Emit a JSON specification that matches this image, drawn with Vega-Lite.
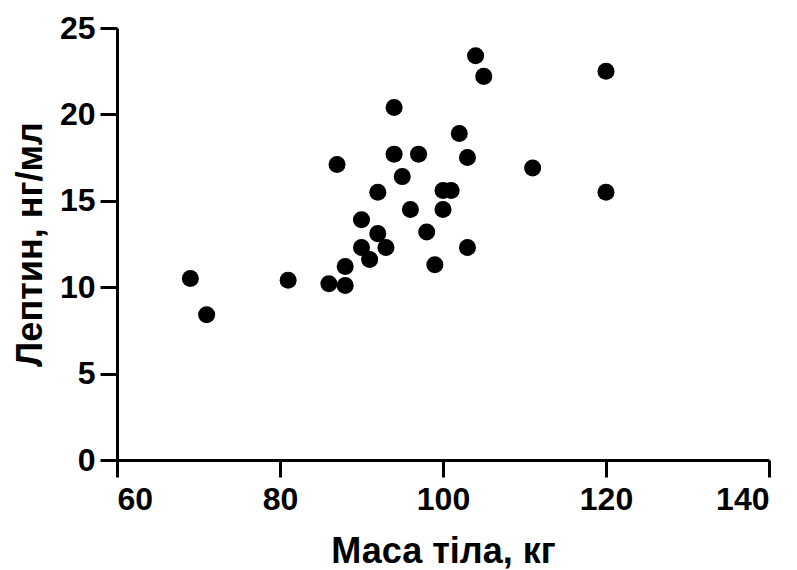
{
  "$schema": "https://vega.github.io/schema/vega-lite/v6.json",
  "width": 652,
  "height": 432,
  "autosize": {"type": "none"},
  "padding": {"left": 117, "top": 28, "right": 28, "bottom": 110},
  "background": "white",
  "config": {
    "view": {"stroke": null},
    "font": "Liberation Sans",
    "axis": {
      "grid": false,
      "domainColor": "black",
      "domainWidth": 3,
      "tickColor": "black",
      "tickWidth": 3,
      "tickSize": 17,
      "labelFont": "Liberation Sans",
      "labelFontWeight": "bold",
      "labelFontSize": 32,
      "labelColor": "black",
      "titleFont": "Liberation Sans",
      "titleFontWeight": "bold",
      "titleFontSize": 36,
      "titleColor": "black"
    }
  },
  "data": {
    "values": [
      {"mass": 104, "leptin": 23.4},
      {"mass": 105, "leptin": 22.2},
      {"mass": 120, "leptin": 22.5},
      {"mass": 94, "leptin": 20.4},
      {"mass": 102, "leptin": 18.9},
      {"mass": 94, "leptin": 17.7},
      {"mass": 97, "leptin": 17.7},
      {"mass": 87, "leptin": 17.1},
      {"mass": 103, "leptin": 17.5},
      {"mass": 95, "leptin": 16.4},
      {"mass": 111, "leptin": 16.9},
      {"mass": 92, "leptin": 15.5},
      {"mass": 100, "leptin": 15.6},
      {"mass": 101, "leptin": 15.6},
      {"mass": 120, "leptin": 15.5},
      {"mass": 96, "leptin": 14.5},
      {"mass": 100, "leptin": 14.5},
      {"mass": 90, "leptin": 13.9},
      {"mass": 92, "leptin": 13.1},
      {"mass": 98, "leptin": 13.2},
      {"mass": 90, "leptin": 12.3},
      {"mass": 93, "leptin": 12.3},
      {"mass": 103, "leptin": 12.3},
      {"mass": 91, "leptin": 11.6},
      {"mass": 99, "leptin": 11.3},
      {"mass": 88, "leptin": 11.2},
      {"mass": 86, "leptin": 10.2},
      {"mass": 88, "leptin": 10.1},
      {"mass": 69, "leptin": 10.5},
      {"mass": 71, "leptin": 8.4},
      {"mass": 81, "leptin": 10.4}
    ]
  },
  "mark": {"type": "circle", "color": "black", "opacity": 1, "size": 290},
  "encoding": {
    "x": {
      "field": "mass",
      "type": "quantitative",
      "title": "Маса тіла, кг",
      "scale": {"domain": [60, 140], "nice": false, "zero": false},
      "axis": {"values": [60, 80, 100, 120, 140], "labelPadding": 7, "titlePadding": 19}
    },
    "y": {
      "field": "leptin",
      "type": "quantitative",
      "title": "Лептин, нг/мл",
      "scale": {"domain": [0, 25], "nice": false},
      "axis": {"values": [0, 5, 10, 15, 20, 25], "labelPadding": 5, "titlePadding": 10}
    }
  }
}
